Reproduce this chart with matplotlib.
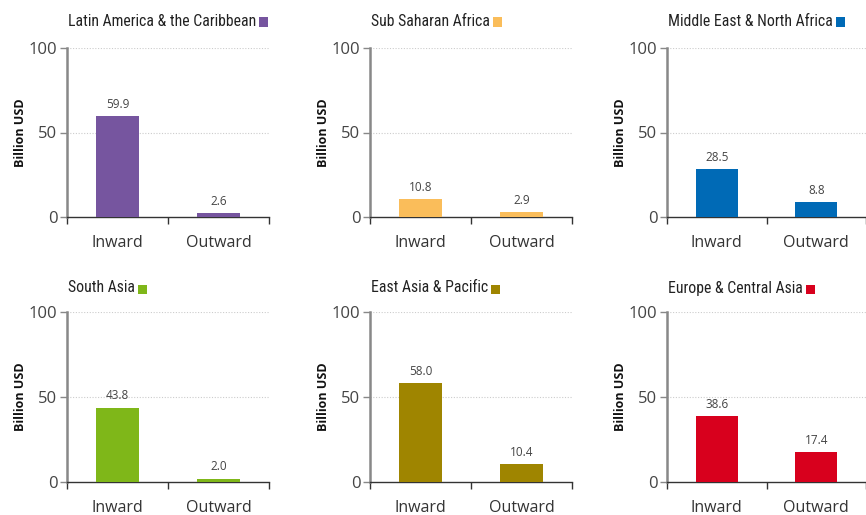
import matplotlib
matplotlib.use("Agg")
import matplotlib.pyplot as plt
from matplotlib.patches import Rectangle
from matplotlib import font_manager

regions = ["Latin America & the Caribbean", "Sub Saharan Africa",
           "Middle East & North Africa", "South Asia",
           "East Asia & Pacific", "Europe & Central Asia"]
categories = ["Inward", "Outward"]
inward = [59.9, 10.8, 28.5, 43.8, 58.0, 38.6]
outward = [2.6, 2.9, 8.8, 2.0, 10.4, 17.4]
colors = ["#76559F", "#FABD5A", "#006AB6", "#7FB719", "#9F8500", "#D8001D"]
y_ticks = [0, 50, 100]

available = {f.name for f in font_manager.fontManager.ttflist}
title_font = "Lato"
for cand in ["Roboto Condensed", "Liberation Sans Narrow", "Open Sans Condensed", "Lato"]:
    if cand in available:
        title_font = cand
        break
body_font = "Open Sans"
plt.rcParams["font.family"] = [body_font, "DejaVu Sans"]

W, H = 866, 515
fig = plt.figure(figsize=(W / 100, H / 100), dpi=100)

# axes boxes in pixels: (left, right, top, bottom)
lefts = [67, 370, 667]
widths = [202, 202, 199]
rows = [(48, 217), (312, 482)]

for i, name in enumerate(regions):
    r, c = divmod(i, 3)
    top, bottom = rows[r]
    ax = fig.add_axes([lefts[c] / W, 1 - bottom / H, widths[c] / W, (bottom - top) / H])
    vals = [inward[i], outward[i]]
    x = list(range(len(categories)))
    ax.bar(x, vals, width=0.42, color=colors[i], zorder=3)
    for xi, v in zip(x, vals):
        ax.text(xi, v + 3, f"{v:.1f}", ha="center", va="bottom",
                fontsize=8.5, color="#444444", zorder=4)
    ax.set_xlim(-0.5, 1.5)
    ax.set_ylim(0, 100)
    ax.set_yticks(y_ticks)
    ax.set_yticklabels([str(t) for t in y_ticks])
    ax.tick_params(axis="y", length=5, width=1, color="#888888", pad=2,
                   labelsize=12, labelcolor="#444444")
    ax.set_xticks([-0.5, 0.5, 1.5])
    ax.set_xticklabels([])
    ax.set_xticks(x, minor=True)
    ax.set_xticklabels(categories, minor=True)
    ax.tick_params(axis="x", which="major", length=5, width=1, color="#333333",
                   direction="out")
    ax.tick_params(axis="x", which="minor", length=0, pad=13,
                   labelsize=11.5, labelcolor="#333333")
    for t in [50, 100]:
        ax.axhline(t, color="#cccccc", lw=0.8, ls=(0, (1, 1.5)), zorder=1)
    for s in ["top", "right"]:
        ax.spines[s].set_visible(False)
    ax.spines["left"].set_color("#888888")
    ax.spines["left"].set_linewidth(1.8)
    ax.spines["bottom"].set_color("#333333")
    ax.spines["bottom"].set_linewidth(1)
    ax.set_ylabel("Billion USD", fontsize=9, fontweight="bold", color="#111111",
                  labelpad=1.5)
    ax.patch.set_visible(False)

# region titles with a colour swatch after the text
titles = []
for i, name in enumerate(regions):
    r, c = divmod(i, 3)
    ty = 21 if r == 0 else 288
    t = fig.text((lefts[c] + 1) / W, 1 - ty / H, name, ha="left", va="center",
                 fontsize=11.3, color="#222222", family=[title_font, "DejaVu Sans"])
    titles.append((t, i))

fig.canvas.draw()
renderer = fig.canvas.get_renderer()
for t, i in titles:
    bb = t.get_window_extent(renderer)
    cy = (bb.y0 + bb.y1) / 2
    size = 9
    fig.patches.append(Rectangle(((bb.x1 + 3) / W, (cy - size / 2 - 1) / H),
                                 size / W, size / H, transform=fig.transFigure,
                                 facecolor=colors[i], edgecolor="none"))

fig.savefig("out.png", dpi=100)
